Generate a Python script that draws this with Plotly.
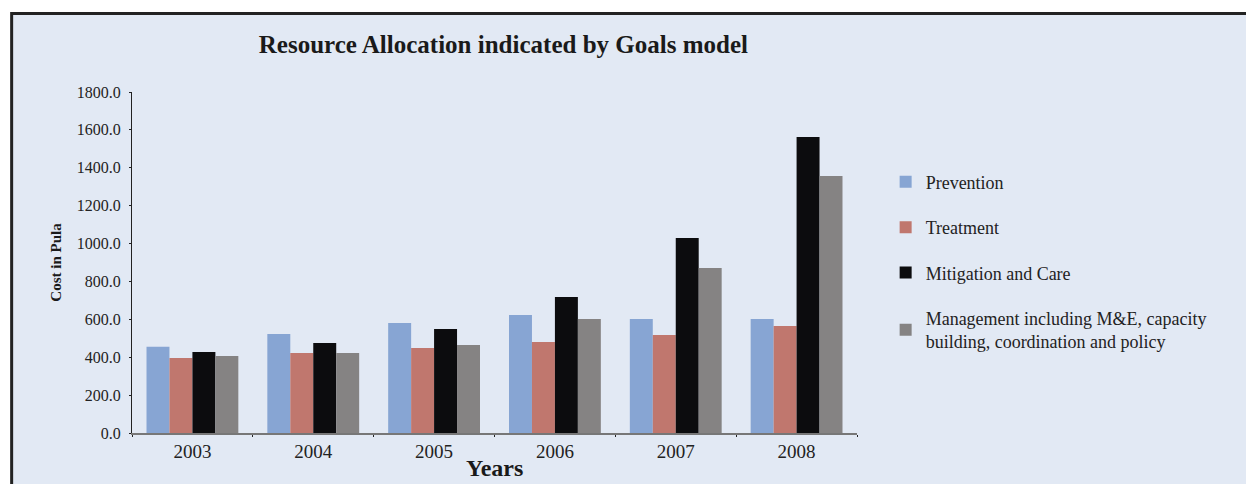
import plotly.graph_objects as go

years = ["2003", "2004", "2005", "2006", "2007", "2008"]
prevention = [455, 522, 581, 623, 602, 602]
treatment = [396, 422, 449, 480, 517, 565]
mitigation = [427, 475, 549, 718, 1029, 1562]
management = [406, 422, 465, 602, 871, 1357]

series_names = [
    "Prevention",
    "Treatment",
    "Mitigation and Care",
    "Management including M&E, capacity<br>building, coordination and policy",
]
series_values = [prevention, treatment, mitigation, management]
colors = ["#87A5D3", "#C0776E", "#0C0C0E", "#858383"]

FONT = "Liberation Serif, Times New Roman, serif"

fig = go.Figure()
for i, (name, vals, col) in enumerate(zip(series_names, series_values, colors)):
    fig.add_trace(go.Bar(x=years, y=vals, name=name,
                         marker=dict(color=col, line=dict(width=0)),
                         legendgroup=f"g{i}"))

fig.update_layout(
    width=1246, height=484,
    margin=dict(l=132, r=389, t=92, b=51),
    paper_bgcolor="white",
    plot_bgcolor="rgba(0,0,0,0)",
    font=dict(family=FONT, color="#222222", size=14),
    barmode="group",
    bargap=0.24,
    bargroupgap=0,
    title=dict(text="<b>Resource Allocation indicated by Goals model</b>",
               x=0.404, xanchor="center", y=0.909, yanchor="middle",
               font=dict(family=FONT, size=25, color="#1a1a1a")),
    legend=dict(x=1.0395, xanchor="left", y=0.79, yanchor="top",
                font=dict(family=FONT, size=18, color="#222222"),
                bgcolor="rgba(0,0,0,0)", tracegroupgap=19),
    showlegend=True,
)

fig.update_xaxes(
    type="category", automargin=False,
    showline=True, linecolor="#777777", linewidth=2,
    ticks="outside", tickson="boundaries", ticklen=2, tickcolor="#222222",
    tickfont=dict(family=FONT, size=19, color="#222222"),
    showgrid=False, zeroline=False,
)

# x axis title placed by hand, kept just inside the bottom edge
fig.add_annotation(text="<b>Years</b>", xref="paper", yref="paper",
                   x=0.5, y=-0.146, xanchor="center", yanchor="bottom",
                   showarrow=False,
                   font=dict(family=FONT, size=24, color="#1a1a1a"))

fig.update_yaxes(
    range=[0, 1800], dtick=200, tickformat=".1f", automargin=False,
    showline=True, linecolor="#222222", linewidth=1,
    ticks="outside", ticklen=2, tickcolor="#222222", ticklabelstandoff=5,
    tickfont=dict(family=FONT, size=16, color="#222222"),
    showgrid=False, zeroline=False,
    title=dict(text="<b>Cost in Pula</b>", standoff=11,
               font=dict(family=FONT, size=15, color="#1a1a1a")),
)

# panel background with dark frame (extends past right and bottom edges)
fig.add_shape(type="rect", xref="paper", yref="paper",
              x0=-0.166, x1=1.6, y0=-0.3, y1=1.230,
              fillcolor="#E2E9F4", line=dict(color="#222222", width=3),
              layer="below")

fig.write_html("out.html", config={"displayModeBar": False},
               post_script="document.body.style.margin='0';")
